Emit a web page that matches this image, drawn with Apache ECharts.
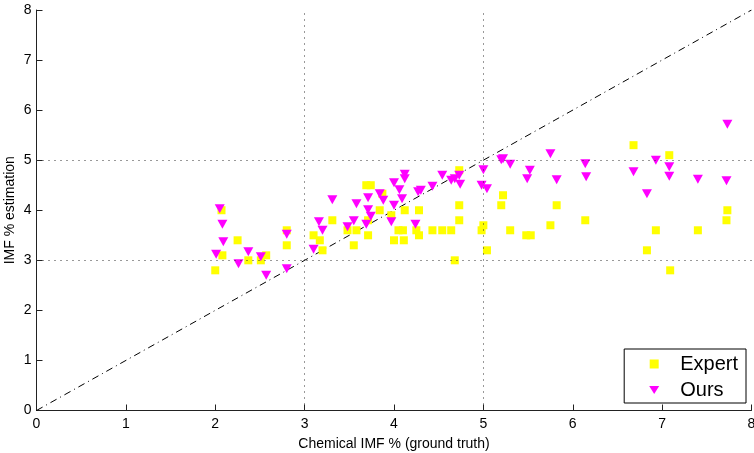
<!DOCTYPE html>
<html>
<head>
<meta charset="utf-8">
<script src="https://cdn.jsdelivr.net/npm/echarts@6/dist/echarts.min.js"></script>
<style>
html,body{margin:0;padding:0;background:#fff;}
#chart{width:754px;height:453px;}
</style>
</head>
<body>
<div id="chart"></div>
<script>
// Expert estimation (yellow squares)
var expertX = [2.00, 2.07, 2.08, 2.25, 2.37, 2.51, 2.57, 2.80, 2.80, 3.10, 3.17, 3.20, 3.31, 3.48, 3.58, 3.55, 3.69, 3.74, 3.71, 3.71,
               3.84, 3.87, 3.97, 4.00, 4.05, 4.10, 4.11, 4.12, 4.28, 4.25, 4.28, 4.43, 4.54, 4.64, 4.68, 4.73, 4.73, 4.73, 4.98, 5.00,
               5.04, 5.20, 5.22, 5.30, 5.48, 5.53, 5.75, 5.82, 6.14, 6.68, 7.08, 7.73, 7.72, 6.93, 7.40, 6.83, 7.09];
var expertY = [2.80, 4.00, 3.10, 3.40, 3.00, 3.00, 3.10, 3.60, 3.30, 3.50, 3.40, 3.20, 3.80, 3.60, 3.60, 3.30, 4.50, 4.50, 3.80, 3.50,
               4.00, 4.33, 3.90, 3.40, 3.60, 3.60, 3.40, 4.00, 4.00, 3.60, 3.50, 3.60, 3.60, 3.60, 3.00, 4.10, 3.80, 4.80, 3.60, 3.70,
               3.20, 4.10, 4.30, 3.60, 3.50, 3.50, 3.70, 4.10, 3.80, 5.30, 5.10, 4.00, 3.80, 3.60, 3.60, 3.20, 2.80];
// Our estimation (magenta downward triangles)
var oursX = [2.05, 2.08, 2.09, 2.01, 2.26, 2.37, 2.51, 2.57, 2.80, 2.80, 3.10, 3.16, 3.20, 3.31, 3.48, 3.55, 3.58, 3.69, 3.71, 3.71,
             3.74, 3.84, 3.88, 3.97, 4.00, 4.00, 4.06, 4.09, 4.12, 4.12, 4.24, 4.27, 4.30, 4.43, 4.54, 4.64, 4.68, 4.73, 4.74, 5.00,
             4.98, 5.04, 5.20, 5.22, 5.30, 5.52, 5.49, 5.75, 5.82, 6.14, 6.15, 7.73, 6.93, 7.08, 6.68, 7.08, 7.40, 7.72, 6.83];
var oursY = [4.03, 3.72, 3.37, 3.12, 2.93, 3.17, 3.07, 2.70, 3.52, 2.83, 3.22, 3.77, 3.60, 4.21, 3.67, 3.79, 4.13, 3.72, 4.25, 4.01,
             3.88, 4.33, 4.20, 3.77, 4.10, 4.55, 4.41, 4.23, 4.72, 4.63, 3.72, 4.37, 4.40, 4.48, 4.70, 4.60, 4.63, 4.70, 4.52, 4.81,
             4.50, 4.43, 5.01, 5.03, 4.92, 4.80, 4.63, 5.13, 4.61, 4.93, 4.67, 5.72, 5.00, 4.87, 4.77, 4.68, 4.62, 4.59, 4.33];
// Identity reference line and dotted threshold lines
var identityLine = [0, 8];
var thresholds = [3, 5];
var axisMin = 0, axisMax = 8, axisStep = 1;

function zip(xs, ys) { return xs.map(function (x, i) { return [x, ys[i]]; }); }

var FONT = 'Liberation Sans, Arial, Helvetica, sans-serif';
var chart = echarts.init(document.getElementById('chart'), null, {renderer: 'canvas'});

var markLines = [];
thresholds.forEach(function (t) { markLines.push({xAxis: t}); });
thresholds.forEach(function (t) { markLines.push({yAxis: t}); });

function axis(name, gap, isY) {
  return {
    type: 'value', min: axisMin, max: axisMax, interval: axisStep,
    name: name, nameLocation: 'middle', nameGap: gap, nameMoveOverlap: false,
    nameTextStyle: {fontFamily: FONT, fontSize: 14, color: '#000'},
    axisLine: {show: true, onZero: false, lineStyle: {color: '#222', width: 1}},
    axisTick: {show: true, inside: true, length: 6, lineStyle: {color: '#222', width: 1}},
    axisLabel: {fontFamily: FONT, fontSize: 14, color: '#000', margin: isY ? 5 : 7,
                showMinLabel: true, showMaxLabel: true, hideOverlap: false},
    splitLine: {show: false}
  };
}

chart.setOption({
  animation: false,
  backgroundColor: '#fff',
  grid: {left: 36.5, right: 2.5, top: 10, bottom: 42.5, containLabel: false, outerBoundsMode: 'none'},
  xAxis: axis('Chemical IMF % (ground truth)', 27, false),
  yAxis: axis('IMF % estimation', 19, true),
  legend: {
    data: [
      {name: 'Expert', icon: 'path://M0,0 L8,0 L8,8 L0,8 Z'},
      {name: 'Ours', icon: 'path://M0,0 L10,0 L5,8 Z'}
    ],
    orient: 'vertical',
    right: 8, top: 349,
    backgroundColor: '#fff',
    borderColor: '#000', borderWidth: 1, borderRadius: 0,
    padding: [4, 8, 2, 25],
    itemGap: 4,
    itemWidth: 10, itemHeight: 9,
    textStyle: {fontFamily: FONT, fontSize: 20, color: '#000', padding: [0, 0, 0, 16], lineHeight: 22}
  },
  series: [
    {
      name: 'ref', type: 'line', silent: true, symbol: 'none',
      data: [[identityLine[0], identityLine[0]], [identityLine[1], identityLine[1]]],
      lineStyle: {color: '#000', width: 1, type: [7, 4, 1, 4]},
      markLine: {
        silent: true, symbol: 'none', label: {show: false},
        lineStyle: {color: '#333', width: 1, type: [1, 5]},
        data: markLines
      },
      z: 1
    },
    {
      name: 'Expert', type: 'scatter', symbol: 'rect', symbolSize: 8,
      data: zip(expertX, expertY),
      itemStyle: {color: '#ffff00', opacity: 1},
      z: 2
    },
    {
      name: 'Ours', type: 'scatter', symbol: 'triangle', symbolRotate: 180, symbolSize: [10, 9],
      data: zip(oursX, oursY),
      itemStyle: {color: '#ff00ff', opacity: 1},
      z: 3
    }
  ]
});
</script>
</body>
</html>
